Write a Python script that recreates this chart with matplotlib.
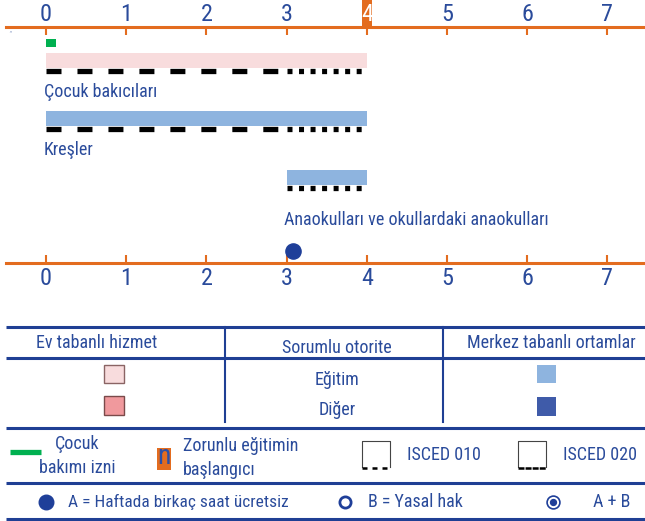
import matplotlib
matplotlib.use("Agg")
import matplotlib.pyplot as plt
from matplotlib.patches import Rectangle
from matplotlib import font_manager

# ---------------------------------------------------------------------------
# Data
# ---------------------------------------------------------------------------
years = [0, 1, 2, 3, 4, 5, 6, 7]
compulsory_start = 4
leave_end = 0.12                      # child-care leave (years)

settings = ["Çocuk bakıcıları", "Kreşler",
            "Anaokulları ve okullardaki anaokulları"]
setting_start = [0, 0, 3]
setting_end = [4, 4, 4]
setting_kind = ["home_edu", "centre_edu", "centre_edu"]
isced010 = [(0, 3), (0, 3), None]
isced020 = [(3, 4), (3, 4), (3, 4)]
entitlement_a = 3.08                  # A = a few free hours per week

# ---------------------------------------------------------------------------
# Style
# ---------------------------------------------------------------------------
_names = {f.name for f in font_manager.fontManager.ttflist}
STRETCH = "normal"
for cand in ("Liberation Sans Narrow", "Roboto Condensed", "Archivo Narrow", "PT Sans Narrow"):
    if cand in _names:
        FONT = cand
        break
else:
    FONT, STRETCH = "DejaVu Sans", "condensed"
plt.rcParams["font.family"] = [FONT, "DejaVu Sans"]
plt.rcParams["font.stretch"] = STRETCH
plt.rcParams["lines.scale_dashes"] = False

ORANGE = "#E36C1F"
NAVY = "#1F3F94"
TXT = "#2A4B9B"
DOT = "#1F3F99"
GREEN = "#00B050"
COLORS = {"home_edu": "#F8DCDD", "home_other": "#F0999D",
          "centre_edu": "#8EB4DF", "centre_other": "#3F5BA9"}
DASH010 = (0, (10.8, 11.5))
DASH020 = (0, (3.6, 4.7))

W, H = 645, 521
fig = plt.figure(figsize=(W / 100, H / 100), dpi=100)

# legend / table layer in pixel coordinates
lg = fig.add_axes([0, 0, 1, 1])
lg.set_xlim(0, W)
lg.set_ylim(H, 0)
lg.axis("off")

# main timeline axes (x in years, y in pixel rows)
ax_top, ax_bot = 27, 263
ax = fig.add_axes([0, 1 - ax_bot / H, 1, (ax_bot - ax_top) / H])
ax.set_facecolor("none")
unit = 80.2
ax.set_xlim(-46 / unit, (W - 46) / unit)
ax.set_ylim(ax_bot, ax_top)
for s in ("left", "right"):
    ax.spines[s].set_visible(False)
for s in ("top", "bottom"):
    ax.spines[s].set_color(ORANGE)
    ax.spines[s].set_linewidth(2.2)
    ax.spines[s].set_bounds(-40 / unit, (W - 46) / unit)
ax.set_yticks([])
ax.set_xticks(years)
ax.set_xticklabels([str(y) for y in years])
ax.tick_params(axis="x", top=True, bottom=True, labeltop=True, labelbottom=True,
               direction="in", length=6, width=1.5, color=ORANGE,
               labelsize=17.5, labelcolor=TXT, pad=1)
for tick in ax.xaxis.get_major_ticks():
    tick.label1.set_y(-0.012)
    if tick.get_loc() == compulsory_start:
        tick.label2.set_color("white")
        tick.label2.set_zorder(5)
ax.add_patch(Rectangle((compulsory_start - 0.065, 1.0), 0.13, ax_top / (ax_bot - ax_top),
                       transform=ax.get_xaxis_transform(), facecolor=ORANGE,
                       edgecolor="none", clip_on=False, zorder=1))

# child-care leave
ax.barh(43, leave_end, left=0, height=8, color=GREEN)

# settings bars
row_y = [60.5, 118.5, 177.5]
label_y = [92, 150, 220]
for i, name in enumerate(settings):
    ax.barh(row_y[i], setting_end[i] - setting_start[i], left=setting_start[i],
            height=15, color=COLORS[setting_kind[i]], linewidth=0)
    dy = row_y[i] + 10.3
    if isced010[i]:
        ax.plot(isced010[i], [dy, dy], color="black", lw=3.8, linestyle=DASH010)
    if isced020[i]:
        ax.plot(isced020[i], [dy, dy], color="black", lw=3.8, linestyle=DASH020)
    ax.text(setting_start[i] - 0.03, label_y[i], name, color=TXT, fontsize=13,
            ha="left", va="center")

ax.scatter([entitlement_a], [251], s=120, color=DOT, zorder=4, clip_on=False)

fig.text(8 / W, 1 - 35 / H, '"', fontsize=6, color="#8EA0C8", style="italic")

# ---------------------------------------------------------------------------
# Table legend
# ---------------------------------------------------------------------------
for yy in (327, 358, 428, 483, 519):
    lg.plot([6, W], [yy, yy], color=NAVY, lw=2.2, solid_capstyle="butt")
for xx in (225, 443):
    lg.plot([xx, xx], [327, 422], color=NAVY, lw=1.5)

kw = dict(color=TXT, fontsize=13, va="center")
lg.text(97, 343, "Ev tabanlı hizmet", ha="center", **kw)
lg.text(337, 348, "Sorumlu otorite", ha="center", **kw)
lg.text(551, 343, "Merkez tabanlı ortamlar", ha="center", **kw)
lg.text(337, 380, "Eğitim", ha="center", **kw)
lg.text(337, 410, "Diğer", ha="center", **kw)

lg.add_patch(Rectangle((104, 365), 20, 18, facecolor=COLORS["home_edu"], edgecolor="#8A6464", lw=1))
lg.add_patch(Rectangle((104, 396), 20, 19, facecolor=COLORS["home_other"], edgecolor="#7A4A4A", lw=1))
lg.add_patch(Rectangle((537, 365), 19, 18, facecolor=COLORS["centre_edu"], edgecolor="none"))
lg.add_patch(Rectangle((537, 397), 19, 19, facecolor=COLORS["centre_other"], edgecolor="none"))

# legend row 1
lg.plot([10, 41], [452, 452], color=GREEN, lw=3.8, solid_capstyle="butt")
lg.text(77, 456, "Çocuk\nbakımı izni", ha="center", multialignment="center",
        linespacing=1.45, **kw)
lg.add_patch(Rectangle((157, 448), 14, 22, facecolor=ORANGE, edgecolor="none"))
lg.text(164, 457, "n", ha="center", color="#2A50A8", fontsize=20, va="center")
lg.text(183, 458, "Zorunlu eğitimin\nbaşlangıcı", ha="left", linespacing=1.45, **kw)

for x0, dash, lbl in ((362, (0, (3.6, 3.6)), "ISCED 010"), (518, (0, (4.3, 0.8)), "ISCED 020")):
    lg.plot([x0, x0, x0 + 28, x0 + 28], [467, 441, 441, 467], color="#444444", lw=0.8)
    lg.plot([x0, x0 + 28], [467.5, 467.5], color="black", lw=1.8, linestyle=dash)
    lg.text(x0 + 45, 455, lbl, ha="left", **kw)

# legend row 2
lg.scatter([46], [502], s=110, color=DOT)
lg.text(68, 502, "A = Haftada birkaç saat ücretsiz", ha="left", color=TXT,
        fontsize=12.5, va="center")
lg.scatter([345], [502], s=65, facecolor="white", edgecolor=DOT, lw=2)
lg.text(368, 502, "B = Yasal hak", ha="left", **kw)
lg.scatter([553], [502], s=85, facecolor="white", edgecolor=DOT, lw=1.2)
lg.scatter([553], [502], s=18, color=DOT)
lg.text(593, 502, "A + B", ha="left", **kw)

fig.savefig("out.png", dpi=100)
